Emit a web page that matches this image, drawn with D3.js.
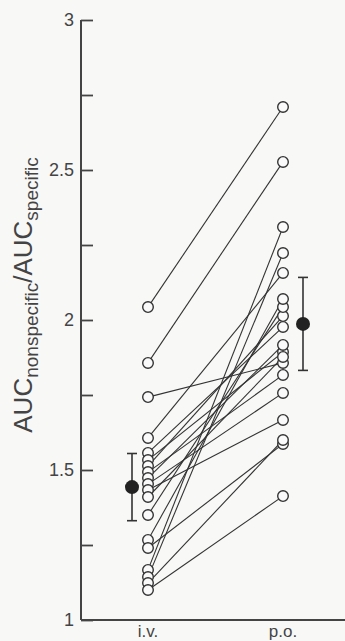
<!DOCTYPE html>
<html>
<head>
<meta charset="utf-8">
<script src="https://cdn.jsdelivr.net/npm/d3@7"></script>
<style>
  html, body { margin: 0; padding: 0; background: #f8f8f7; }
  svg { display: block; }
</style>
</head>
<body>
<script>
// ---- data ----
const categories = ["i.v.", "p.o."];
const ivValues = [2.043, 1.857, 1.743, 1.607, 1.557, 1.533, 1.513, 1.493, 1.473, 1.453, 1.433, 1.41, 1.35, 1.267, 1.24, 1.167, 1.143, 1.123, 1.10];
const poValues = [2.71, 2.527, 1.857, 2.157, 1.977, 1.893, 2.013, 1.817, 1.917, 1.757, 1.667, 1.877, 2.043, 2.07, 1.587, 2.31, 2.223, 1.60, 1.413];
const meanValues = [1.443, 1.987];
const sdValues = [0.112, 0.155];
const majorTicks = [1, 1.5, 2, 2.5, 3];
const minorTicks = [1.25, 1.75, 2.25, 2.75];

const W = 345, H = 641;
const svg = d3.select("body").append("svg").attr("width", W).attr("height", H);

const y = d3.scaleLinear().domain([1, 3]).range([620, 20]);
const x = d3.scalePoint().domain(categories).range([148, 283]);
const axisX = 81;
const ink = "#333";

// subject lines
const pairs = ivValues.map((v, i) => [v, poValues[i]]);
svg.append("g").selectAll("line").data(pairs).join("line")
  .attr("x1", x("i.v.")).attr("y1", d => y(d[0]))
  .attr("x2", x("p.o.")).attr("y2", d => y(d[1]))
  .attr("stroke", ink).attr("stroke-width", 1.1);

// circles
const pts = [];
ivValues.forEach(v => pts.push({c: "i.v.", v}));
poValues.forEach(v => pts.push({c: "p.o.", v}));
svg.append("g").selectAll("circle").data(pts).join("circle")
  .attr("cx", d => x(d.c)).attr("cy", d => y(d.v)).attr("r", 5.3)
  .attr("fill", "#fafafa").attr("stroke", ink).attr("stroke-width", 1.4);

// mean +/- SD
const offsets = [-16, 20];
const ms = categories.map((c, i) => ({c, m: meanValues[i], s: sdValues[i], dx: offsets[i]}));
const eg = svg.append("g");
ms.forEach(d => {
  const cx = x(d.c) + d.dx;
  eg.append("line").attr("x1", cx).attr("x2", cx)
    .attr("y1", y(d.m + d.s)).attr("y2", y(d.m - d.s)).attr("stroke", ink).attr("stroke-width", 1.6);
  [d.m + d.s, d.m - d.s].forEach(v => {
    eg.append("line").attr("x1", cx - 5).attr("x2", cx + 5)
      .attr("y1", y(v)).attr("y2", y(v)).attr("stroke", ink).attr("stroke-width", 1.6);
  });
  eg.append("circle").attr("cx", cx).attr("cy", y(d.m)).attr("r", 7).attr("fill", "#222");
});

// y axis
const ya = svg.append("g").attr("transform", `translate(${axisX},0)`)
  .call(d3.axisRight(y).tickValues(majorTicks).tickSize(12).tickFormat(""));
ya.select(".domain").remove();
ya.selectAll("line").attr("stroke", "#444").attr("stroke-width", 1.8);
const ym = svg.append("g").attr("transform", `translate(${axisX},0)`)
  .call(d3.axisRight(y).tickValues(minorTicks).tickSize(12).tickFormat(""));
ym.select(".domain").remove();
ym.selectAll("line").attr("stroke", "#444").attr("stroke-width", 1.8);

svg.append("g").selectAll("text").data(majorTicks).join("text")
  .attr("x", axisX - 7).attr("y", d => y(d)).attr("dy", "0.36em")
  .attr("text-anchor", "end")
  .attr("font-family", "Liberation Sans, Arial, sans-serif").attr("font-size", 18)
  .attr("fill", "#444").text(d => d3.format("")(d));

// axis lines
svg.append("line").attr("x1", axisX).attr("x2", axisX).attr("y1", y(3)).attr("y2", y(1))
  .attr("stroke", "#444").attr("stroke-width", 2);
svg.append("line").attr("x1", axisX).attr("x2", W).attr("y1", y(1)).attr("y2", y(1))
  .attr("stroke", "#444").attr("stroke-width", 2);

// x labels
svg.append("g").selectAll("text").data(categories).join("text")
  .attr("x", d => x(d)).attr("y", 637)
  .attr("text-anchor", "middle")
  .attr("font-family", "Liberation Sans, Arial, sans-serif").attr("font-size", 17)
  .attr("fill", "#444").text(d => d);

// y label
const yl = svg.append("text")
  .attr("transform", `translate(32,${295}) rotate(-90)`)
  .attr("text-anchor", "middle")
  .attr("font-family", "Liberation Sans, Arial, sans-serif")
  .attr("font-size", 26).attr("fill", "#444");
yl.append("tspan").text("AUC");
yl.append("tspan").attr("font-size", 19).attr("dy", 6).text("nonspecific");
yl.append("tspan").attr("dy", -6).text("/AUC");
yl.append("tspan").attr("font-size", 19).attr("dy", 6).text("specific");
</script>
</body>
</html>
